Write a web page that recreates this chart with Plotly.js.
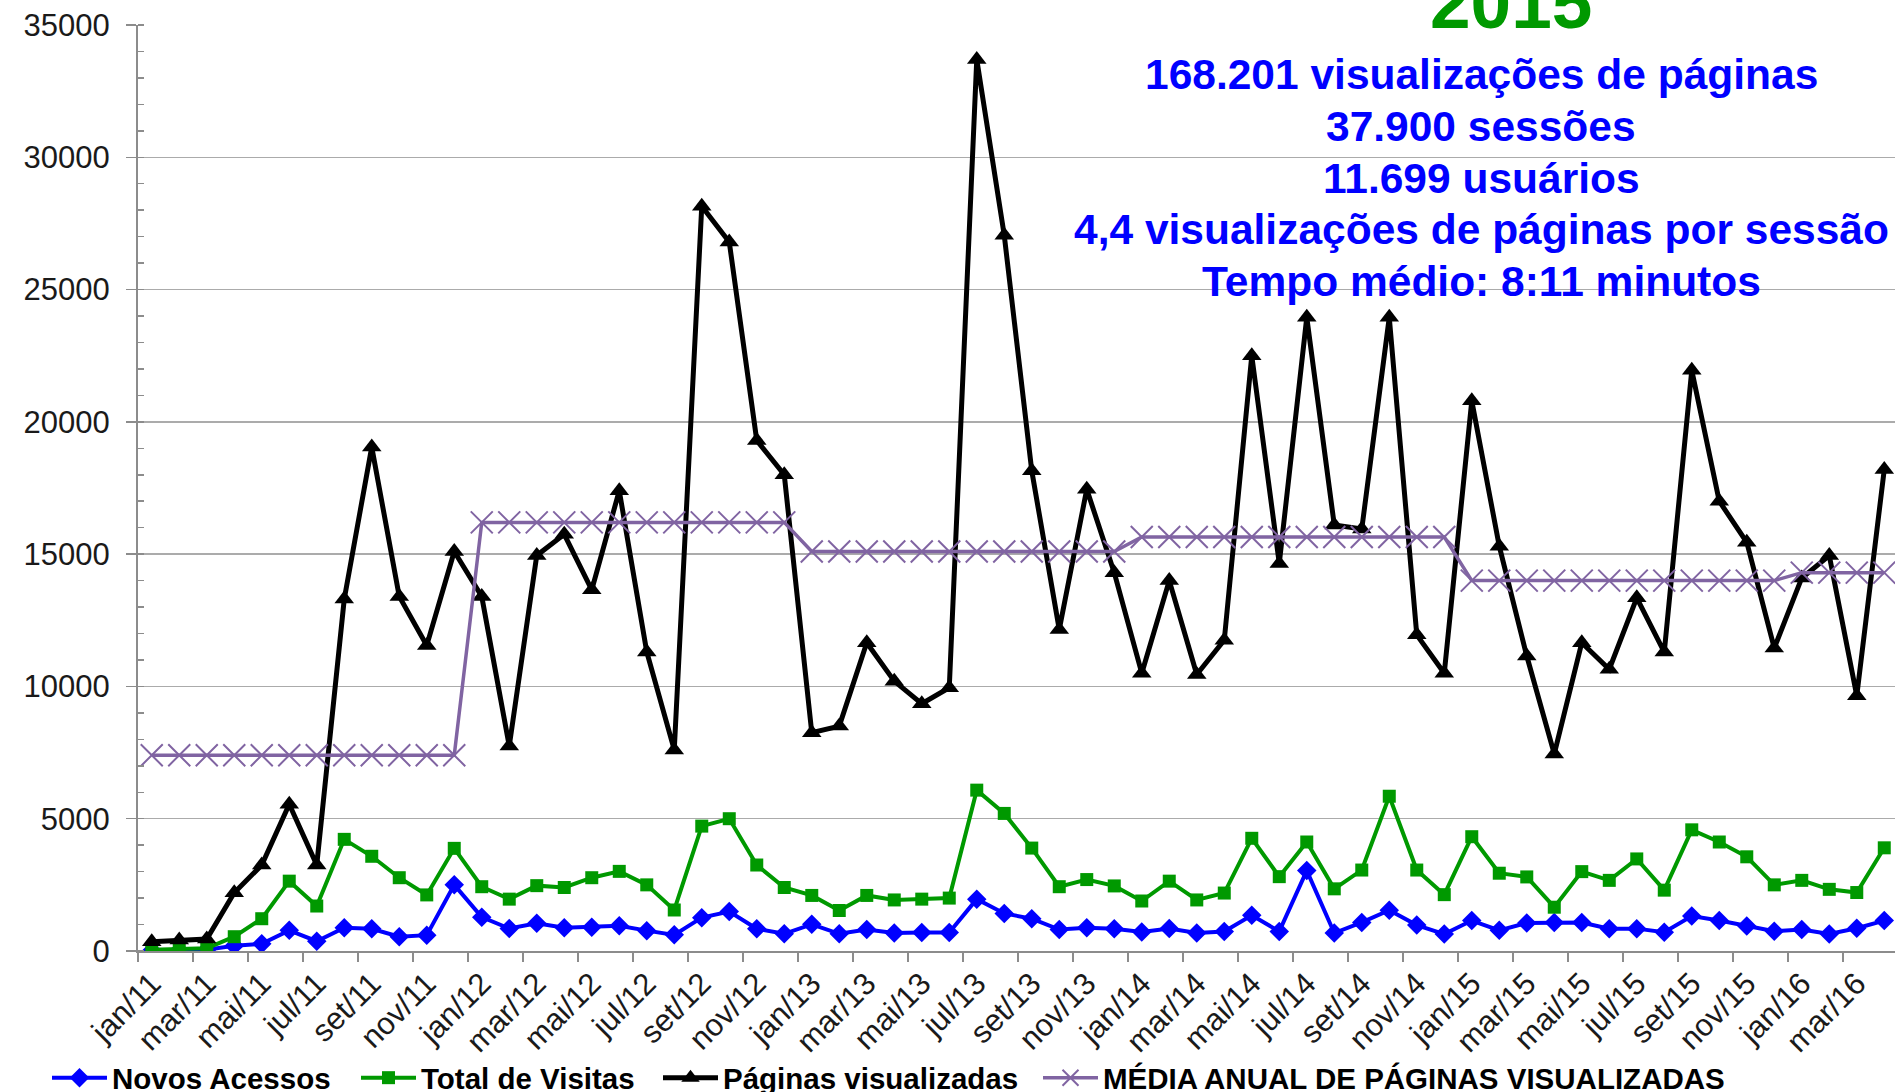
<!DOCTYPE html>
<html>
<head>
<meta charset="utf-8">
<script src="https://cdn.plot.ly/plotly-3.0.1.min.js"></script>
<style>html,body{margin:0;padding:0;background:#fff;overflow:hidden;}#chart{width:1895px;height:1115px;}</style>
</head>
<body>
<div id="chart"></div>
<script>
const months = ["jan/11","fev/11","mar/11","abr/11","mai/11","jun/11","jul/11","ago/11","set/11","out/11","nov/11","dez/11",
"jan/12","fev/12","mar/12","abr/12","mai/12","jun/12","jul/12","ago/12","set/12","out/12","nov/12","dez/12",
"jan/13","fev/13","mar/13","abr/13","mai/13","jun/13","jul/13","ago/13","set/13","out/13","nov/13","dez/13",
"jan/14","fev/14","mar/14","abr/14","mai/14","jun/14","jul/14","ago/14","set/14","out/14","nov/14","dez/14",
"jan/15","fev/15","mar/15","abr/15","mai/15","jun/15","jul/15","ago/15","set/15","out/15","nov/15","dez/15",
"jan/16","fev/16","mar/16","abr/16"];

const novosAcessos = [20,30,50,200,270,780,370,880,840,540,600,2500,
1280,850,1050,880,900,950,770,610,1260,1490,840,650,
1010,650,810,680,700,700,1960,1420,1220,810,880,840,
720,850,680,740,1350,740,3040,680,1080,1540,980,640,
1150,780,1060,1080,1080,845,845,710,1320,1150,945,745,
810,640,860,1150];

const totalVisitas = [50,80,100,540,1220,2640,1700,4220,3580,2770,2120,3880,
2430,1960,2470,2400,2770,3010,2500,1550,4720,5000,3250,2400,
2100,1530,2100,1930,1960,2000,6080,5200,3890,2430,2700,2460,
1890,2640,1930,2190,4260,2810,4120,2350,3060,5850,3060,2130,
4320,2940,2800,1655,3000,2670,3480,2300,4580,4120,3560,2500,
2670,2330,2210,3900];

const paginasVisualizadas = [350,420,450,2200,3250,5550,3250,13300,19050,13400,11550,15100,
13400,7750,14950,15750,13650,17400,11300,7600,28150,26800,19300,18000,
8250,8500,11650,10200,9350,9950,33700,27050,18150,12150,17450,14300,
10500,14000,10450,11750,22500,14650,23950,16100,15950,23950,11950,10500,
20800,15300,11150,7450,11650,10650,13350,11300,21950,17000,15450,11450,
14100,14950,9650,18200];

const mediaAnual = [7400,7400,7400,7400,7400,7400,7400,7400,7400,7400,7400,7400,
16200,16200,16200,16200,16200,16200,16200,16200,16200,16200,16200,16200,
15100,15100,15100,15100,15100,15100,15100,15100,15100,15100,15100,15100,
15650,15650,15650,15650,15650,15650,15650,15650,15650,15650,15650,15650,
14000,14000,14000,14000,14000,14000,14000,14000,14000,14000,14000,14000,
14300,14300,14300,14300];

const seriesNames = ["Novos Acessos","Total de Visitas","Páginas visualizadas","MÉDIA ANUAL DE PÁGINAS VISUALIZADAS"];
const yearLabel = "2015";
const summaryLines = ["168.201 visualizações de páginas","37.900 sessões","11.699 usuários","4,4 visualizações de páginas por sessão","Tempo médio: 8:11 minutos"];

const W = 1895, H = 1115;
const mL = 138, mR = 0, mT = 25, mB = H - 951;
const pw = W - mL - mR, ph = H - mT - mB;
const px = x => (x - mL) / pw;
const py = y => (H - mB - y) / ph;

const FONT = "Arial, 'Liberation Sans', sans-serif";

const traces = [
  {x: months, y: novosAcessos, name: seriesNames[0], legend: 'legend', type: 'scatter', mode: 'lines+markers',
   line: {color: '#0000FF', width: 4}, marker: {symbol: 'diamond', size: 15, color: '#0000FF'}},
  {x: months, y: totalVisitas, name: seriesNames[1], legend: 'legend2', type: 'scatter', mode: 'lines+markers',
   line: {color: '#009900', width: 4}, marker: {symbol: 'square', size: 13, color: '#009900'}},
  {x: months, y: paginasVisualizadas, name: seriesNames[2], legend: 'legend3', type: 'scatter', mode: 'lines+markers',
   line: {color: '#000000', width: 5}, marker: {symbol: 'triangle-up', size: 17, color: '#000000'}},
  {x: months, y: mediaAnual, name: seriesNames[3], legend: 'legend4', type: 'scatter', mode: 'lines+markers',
   line: {color: '#8064A2', width: 3.5}, marker: {symbol: 'x-thin', size: 22, color: '#8064A2', line: {color: '#8064A2', width: 2}}}
];

const yLines = [75, 126.5, 178, 229.5, 281];
const annotations = summaryLines.map((t, i) => ({
  text: t, xref: 'paper', yref: 'paper', x: px(1481), y: py(yLines[i]),
  xanchor: 'center', yanchor: 'middle', showarrow: false,
  font: {family: FONT, size: 42.5, color: '#0000FF', weight: 'bold'}
}));
annotations.push({
  text: yearLabel, xref: 'paper', yref: 'paper', x: px(1511), y: py(3),
  xanchor: 'center', yanchor: 'middle', showarrow: false,
  font: {family: FONT, size: 73, color: '#009900', weight: 'bold'}
});

const legendBase = {
  orientation: 'h', xanchor: 'left', y: py(1078), yanchor: 'middle',
  font: {family: FONT, size: 29.5, color: '#000000', weight: 'bold'},
  itemwidth: 55, bgcolor: 'rgba(0,0,0,0)'
};
const legendStarts = [47, 356, 658, 1038];

const layout = {
  width: W, height: H,
  margin: {l: mL, r: mR, t: mT, b: mB, pad: 0},
  paper_bgcolor: '#ffffff', plot_bgcolor: '#ffffff',
  showlegend: true,
  xaxis: {
    type: 'category', categoryorder: 'array', categoryarray: months,
    range: [-0.5, 63.39], dtick: 2, tick0: 0, tickson: 'boundaries',
    tickangle: -45, ticks: 'outside', ticklen: 9, tickwidth: 1.5, tickcolor: '#8c8c8c',
    showline: true, linecolor: '#8c8c8c', linewidth: 2, showgrid: false, zeroline: false,
    tickfont: {family: FONT, size: 31, color: '#1a1a1a'}, automargin: false
  },
  yaxis: {
    range: [0, 35000], dtick: 5000, tick0: 0, tickformat: 'd',
    ticks: 'outside', ticklen: 10, tickwidth: 1.5, tickcolor: '#8c8c8c', ticklabelstandoff: 10,
    showline: true, linecolor: '#8c8c8c', linewidth: 2,
    showgrid: true, gridcolor: '#ababab', gridwidth: 1.5, zeroline: false,
    minor: {dtick: 1000, ticks: 'inside', ticklen: 6, tickwidth: 1.5, tickcolor: '#8c8c8c', showgrid: false},
    tickfont: {family: FONT, size: 31, color: '#1a1a1a'}, automargin: false
  },
  legend: Object.assign({}, legendBase, {x: px(legendStarts[0])}),
  legend2: Object.assign({}, legendBase, {x: px(legendStarts[1])}),
  legend3: Object.assign({}, legendBase, {x: px(legendStarts[2])}),
  legend4: Object.assign({}, legendBase, {x: px(legendStarts[3])}),
  shapes: [
    {type: 'rect', xref: 'paper', yref: 'paper', x0: px(1049), x1: px(1910), y0: py(298), y1: py(35),
     fillcolor: '#ffffff', line: {width: 0}, layer: 'between'},
    {type: 'rect', xref: 'paper', yref: 'paper', x0: px(1338), x1: px(1685), y0: py(35), y1: py(-5),
     fillcolor: '#ffffff', line: {width: 0}, layer: 'between'}
  ],
  annotations: annotations
};

Plotly.newPlot('chart', traces, layout, {displayModeBar: false, staticPlot: true});
</script>
</body>
</html>
